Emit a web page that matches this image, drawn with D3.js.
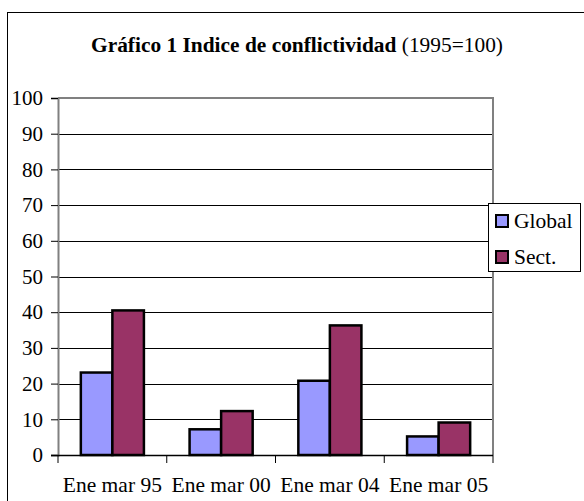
<!DOCTYPE html>
<html lang="es">
<head>
    <meta charset="utf-8">
    <title>Gráfico 1 Indice de conflictividad</title>
    <script src="https://cdn.jsdelivr.net/npm/d3@7/dist/d3.min.js"></script>
    <style>
        body { margin: 0; background: #fff; }
        svg text { font-family: "Liberation Serif", "Times New Roman", serif; fill: #000; }
    </style>
</head>
<body>
<svg width="584" height="501"></svg>
<script>
    // data
    var categories = ["Ene mar 95", "Ene mar 00", "Ene mar 04", "Ene mar 05"];
    var series = ["Global", "Sect."];
    var globalValues = [23.1, 7.2, 20.8, 5.2];
    var sectValues = [40.5, 12.3, 36.3, 9.1];
    var yTicks = [0, 10, 20, 30, 40, 50, 60, 70, 80, 90, 100];
    var colors = ["#9999ff", "#993366"];

    var svg = d3.select("svg");

    // outer frame
    svg.append("rect")
        .attr("x", 7.5).attr("y", 12.5)
        .attr("width", 600).attr("height", 520)
        .attr("fill", "none").attr("stroke", "#000").attr("stroke-width", 1);

    // title
    var title = svg.append("text")
        .attr("x", 297).attr("y", 52)
        .attr("text-anchor", "middle")
        .style("font-size", "21.4px");
    title.append("tspan").attr("font-weight", "bold").text("Gráfico 1 Indice de conflictividad ");
    title.append("tspan").text("(1995=100)");

    var plotLeft = 58, plotRight = 493, plotTop = 98, plotBottom = 455;

    var x = d3.scaleBand()
        .domain(categories)
        .range([plotLeft, plotRight])
        .paddingInner(0.42)
        .paddingOuter(0.21);

    var x1 = d3.scaleBand()
        .domain(series)
        .range([0, x.bandwidth()]);

    var y = d3.scaleLinear().domain([0, 100]).range([plotBottom, plotTop]);

    // gridlines
    svg.append("g")
        .selectAll("line")
        .data(yTicks.filter(function (d) { return d > 0; }))
        .enter().append("line")
        .attr("x1", plotLeft).attr("x2", plotRight)
        .attr("y1", function (d) { return Math.round(y(d)) + 0.5; })
        .attr("y2", function (d) { return Math.round(y(d)) + 0.5; })
        .attr("stroke", "#000").attr("stroke-width", 1);

    // plot area border (top and right)
    svg.append("path")
        .attr("d", "M" + plotLeft + "," + plotTop + "H" + plotRight + "V" + plotBottom)
        .attr("fill", "none").attr("stroke", "#808080").attr("stroke-width", 2);

    // bars
    var rows = categories.map(function (c, i) {
        return { cat: c, values: [globalValues[i], sectValues[i]] };
    });

    var groups = svg.append("g")
        .selectAll("g")
        .data(rows)
        .enter().append("g")
        .attr("transform", function (d) { return "translate(" + x(d.cat) + ",0)"; });

    groups.selectAll("rect")
        .data(function (d) { return d.values.map(function (v, j) { return { s: series[j], v: v, j: j }; }); })
        .enter().append("rect")
        .attr("x", function (d) { return x1(d.s); })
        .attr("y", function (d) { return y(d.v); })
        .attr("width", x1.bandwidth())
        .attr("height", function (d) { return y(0) - y(d.v); })
        .attr("fill", function (d) { return colors[d.j]; })
        .attr("stroke", "#000").attr("stroke-width", 2.5);

    // y axis
    var yAxis = svg.append("g")
        .attr("transform", "translate(" + plotLeft + ",0)")
        .call(d3.axisLeft(y).tickValues(yTicks).tickSize(7).tickPadding(8));
    yAxis.select(".domain").attr("stroke", "#808080").attr("stroke-width", 2);
    yAxis.selectAll(".tick line").attr("stroke", "#000");
    yAxis.selectAll("text")
        .style("font-size", "21px")
        .style("font-family", "Liberation Serif, serif");

    // x axis with ticks between categories
    var xAxisG = svg.append("g").attr("transform", "translate(0," + plotBottom + ")");
    xAxisG.append("line")
        .attr("x1", plotLeft - 7).attr("x2", plotRight)
        .attr("y1", 0.5).attr("y2", 0.5)
        .attr("stroke", "#000").attr("stroke-width", 1.5);
    var step = x.step();
    var bounds = d3.range(categories.length + 1).map(function (i) { return plotLeft + i * step; });
    xAxisG.selectAll("line.tk")
        .data(bounds)
        .enter().append("line")
        .attr("class", "tk")
        .attr("x1", function (d) { return d; }).attr("x2", function (d) { return d; })
        .attr("y1", 0).attr("y2", 8)
        .attr("stroke", "#000");
    xAxisG.selectAll("text")
        .data(categories)
        .enter().append("text")
        .attr("x", function (d) { return x(d) + x.bandwidth() / 2; })
        .attr("y", 37)
        .attr("text-anchor", "middle")
        .style("font-size", "21.5px")
        .text(function (d) { return d; });

    // legend
    var legend = svg.append("g").attr("transform", "translate(488,203)");
    legend.append("rect")
        .attr("x", 0.5).attr("y", 0.5).attr("width", 92).attr("height", 68)
        .attr("fill", "#fff").attr("stroke", "#000").attr("stroke-width", 1);
    var items = legend.selectAll("g.item")
        .data(series)
        .enter().append("g")
        .attr("class", "item")
        .attr("transform", function (d, i) { return "translate(0," + (i * 36) + ")"; });
    items.append("rect")
        .attr("x", 8).attr("y", 12).attr("width", 12).attr("height", 12)
        .attr("fill", function (d, i) { return colors[i]; })
        .attr("stroke", "#000").attr("stroke-width", 2);
    items.append("text")
        .attr("x", 26).attr("y", 25)
        .style("font-size", "21.5px")
        .text(function (d) { return d; });
</script>
</body>
</html>
